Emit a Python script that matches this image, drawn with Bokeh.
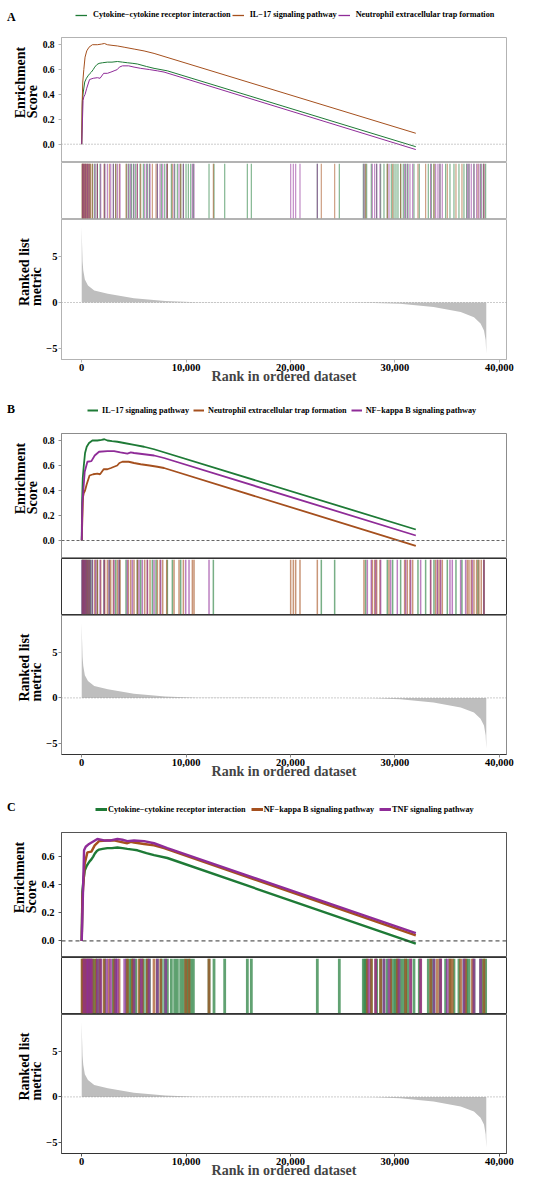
from bokeh.plotting import figure
from bokeh.layouts import column
from bokeh.models import (Range1d, FixedTicker, NumeralTickFormatter, Span,
                          Legend, LegendItem, Title)
from bokeh.embed import file_html
from bokeh.resources import INLINE

# ---------------- data ----------------
RANK = [0, 30, 80, 150, 300, 600, 1200, 2500, 5000, 8000, 11000, 15000, 20000,
        25000, 28000, 30500, 33700, 36300, 37570, 38200, 38530, 38690, 38750]
METRIC = [8.3, 6.5, 4.5, 3.5, 2.5, 1.85, 1.3, 0.95, 0.47, 0.15, 0.03, 0.005, 0.0,
          -0.01, -0.05, -0.15, -0.5, -1.05, -1.6, -2.3, -3.05, -4.1, -5.6]

CYTO_X = [0, 64, 150, 287, 450, 607, 800, 926, 1100, 1245, 1450, 1660, 2000, 2458,
          2900, 3416, 3900, 4373, 4900, 5331, 6200, 6927, 8203, 32000]
CYTO_ES = [0, 0.35, 0.42, 0.50, 0.53, 0.55, 0.57, 0.58, 0.60, 0.62, 0.64, 0.65, 0.655,
           0.66, 0.66, 0.665, 0.66, 0.655, 0.65, 0.645, 0.625, 0.61, 0.59, -0.02]
CYTO_HITS = [64, 223, 383, 606, 798, 1053, 1277, 1500, 1756, 2202, 3032, 3256, 4309,
             4533, 4756, 4948, 5171, 5586, 5905, 6224, 6480, 7246, 7629, 7948, 8203,
             8586, 8905, 9161, 9480, 9736, 9991, 10214, 10438, 10693, 12193, 12672,
             13694, 15864, 16247, 22567, 24674, 26972, 27132, 27292, 27738, 28249,
             28632, 28951, 29270, 29654, 29909, 30101, 30292, 30548, 30803, 31026,
             31250, 31824, 32335, 33197, 33484, 33739, 34314, 34856, 35272, 35655,
             36133, 36612, 36868, 37091, 37570, 38208, 38464, 38687]

IL17_X = [0, 32, 100, 200, 319, 479, 700, 1021, 1500, 1900, 2170, 2460, 2900, 3420,
          4060, 5020, 5970, 6930, 32000]
IL17_ES = [0, 0.30, 0.50, 0.60, 0.70, 0.75, 0.78, 0.80, 0.80, 0.805, 0.81, 0.80, 0.795,
           0.79, 0.78, 0.765, 0.75, 0.73, 0.088]
IL17_HITS = [32, 100, 160, 240, 319, 400, 479, 560, 670, 760, 862, 1021, 1500, 2139,
             2649, 3256, 3607, 4245, 5331, 5650, 6767, 7118, 8203, 8682, 9480, 12608,
             22950, 24227, 27196, 29270, 29781, 30548, 32207, 32941, 33739, 35016,
             35846, 36420, 37952, 38527]

NEUT_X = [0, 128, 200, 319, 479, 750, 1100, 1500, 1756, 2100, 2458, 2800, 3096, 3400,
          3607, 3900, 4500, 5011, 5650, 6500, 7246, 7884, 32000]
NEUT_ES = [0, 0.35, 0.38, 0.40, 0.45, 0.52, 0.53, 0.535, 0.53, 0.57, 0.57, 0.58, 0.59,
           0.60, 0.62, 0.63, 0.63, 0.62, 0.61, 0.60, 0.59, 0.58, -0.043]
NEUT_HITS = [96, 223, 383, 543, 702, 1245, 1500, 1819, 2202, 2458, 2777, 3032, 3416,
             3671, 4469, 4692, 5011, 5331, 6033, 6288, 6544, 7246, 7501, 7757, 8140,
             8842, 9321, 9736, 10598, 10757, 20014, 20269, 20492, 20907, 22567, 27036,
             27834, 28058, 28249, 28568, 29430, 30930, 31186, 31441, 31697, 33420,
             33899, 34122, 34314, 34537, 36931, 37091, 37314, 37570, 37825, 38048,
             38272, 38527]

NFKB_X = [0, 64, 287, 543, 926, 1245, 1660, 2458, 3100, 3700, 4373, 4700, 5011, 5970,
          6930, 7884, 32000]
NFKB_ES = [0, 0.30, 0.55, 0.63, 0.635, 0.68, 0.71, 0.715, 0.715, 0.705, 0.695, 0.705,
           0.70, 0.69, 0.68, 0.66, 0.04]
NFKB_HITS = [32, 160, 287, 415, 606, 798, 1021, 1341, 1756, 2139, 2617, 3096, 3575,
             4373, 4852, 5490, 5809, 6288, 6927, 7565, 9959, 10278, 12193, 27356,
             27738, 28153, 28632, 29590, 30228, 31026, 31505, 32463, 33420, 34058,
             34377, 35272, 35495, 36293, 36772, 37410, 38527]

TNF_X = [0, 223, 383, 702, 1500, 2139, 2777, 3416, 3894, 4373, 5011, 5969, 6927, 8203,
         32000]
TNF_ES = [0, 0.645, 0.67, 0.69, 0.725, 0.715, 0.715, 0.725, 0.72, 0.71, 0.715, 0.71,
          0.695, 0.66, 0.055]
TNF_HITS = [223, 479, 606, 798, 926, 1500, 1819, 2394, 2777, 3256, 3416, 4118, 5011,
            5714, 6448, 7246, 8044, 27515, 28153, 28951, 29430, 30388, 31505, 32463,
            33739, 34377, 35016, 36612, 37570, 38208]

NAMES = {
    "cyto": "Cytokine\u2212cytokine receptor interaction",
    "il17": "IL\u221217 signaling pathway",
    "neut": "Neutrophil extracellular trap formation",
    "nfkb": "NF\u2212kappa B signaling pathway",
    "tnf": "TNF signaling pathway",
}
SETS = {
    "cyto": (CYTO_X, CYTO_ES, CYTO_HITS),
    "il17": (IL17_X, IL17_ES, IL17_HITS),
    "neut": (NEUT_X, NEUT_ES, NEUT_HITS),
    "nfkb": (NFKB_X, NFKB_ES, NFKB_HITS),
    "tnf": (TNF_X, TNF_ES, TNF_HITS),
}
PANELS = [("A", ["cyto", "il17", "neut"]),
          ("B", ["il17", "neut", "nfkb"]),
          ("C", ["cyto", "nfkb", "tnf"])]
ES_TICKS = {"A": [0, 0.2, 0.4, 0.6, 0.8], "B": [0, 0.2, 0.4, 0.6, 0.8],
            "C": [0, 0.2, 0.4, 0.6]}
X_TICKS = [0, 10000, 20000, 30000, 40000]
RANK_TICKS = [-5, 0, 5]

COLORS = ["#1E7A36", "#A5501E", "#8F2C98"]
FONT = "Liberation Serif"
XR = (-1937, 40687)
W = 550
FL, FW = 61, 445
PAD = "\u00a0" * 10   # lifts the rotated y titles above the frame centre

STYLE = {
    "A": dict(lw=1.0, llw=1.3, tw=1.2, ta=0.55, out="#b3b3b3", hit="#b3b3b3",
              zdash="1 2", zcol="#999999", head=36, esr=(-0.147, 0.858), esfs="9.5px",
              lx=75, ly=17, ls=6, sp=1, gw=12, let_y=11.5, rh=140),
    "B": dict(lw=1.8, llw=2.0, tw=1.5, ta=0.6, out="#8c8c8c", hit="#333333",
              zdash="3 2", zcol="#666666", head=46, esr=(-0.144, 0.856), esfs="9.5px",
              lx=87, ly=17.3, ls=4, sp=4, gw=11, let_y=15.5, rh=139),
    "C": dict(lw=2.4, llw=3.0, tw=2.8, ta=0.7, out="#555555", hit="#333333",
              zdash="4 3", zcol="#333333", head=50, esr=(-0.118, 0.7715), esfs="10.5px",
              lx=95, ly=17.5, ls=1, sp=5, gw=12, let_y=16, rh=139),
}


def base(fh, top, bottom, yr, xaxis=None, yaxis=None):
    p = figure(frame_width=FW, frame_height=fh, min_border_left=FL,
               min_border_right=W - FL - FW, min_border_top=top,
               min_border_bottom=bottom, x_range=Range1d(*XR), y_range=Range1d(*yr),
               x_axis_location=xaxis, y_axis_location=yaxis,
               output_backend="svg", toolbar_location=None)
    p.xgrid.visible = False
    p.ygrid.visible = False
    p.background_fill_color = "white"
    p.border_fill_color = "white"
    return p


def style_yaxis(p, ax, color, fs, lines, standoff):
    ax.major_label_text_font = FONT
    ax.major_label_text_font_style = "bold"
    ax.major_label_text_font_size = fs
    ax.major_label_text_color = "black"
    ax.major_label_standoff = standoff
    ax.axis_label_standoff = 0
    ax.major_tick_out = 3
    ax.major_tick_in = 0
    ax.minor_tick_out = 0
    ax.minor_tick_in = 0
    ax.axis_line_color = color
    ax.major_tick_line_color = color
    text = "\n".join(PAD + t for t in lines)
    p.add_layout(Title(text=text, align="center", standoff=0,
                       text_font=FONT, text_font_style="bold", text_font_size="14px",
                       text_line_height=0.8, text_color="black"), "left")


def legend(items, loc, **kw):
    opts = dict(orientation="horizontal", location=loc, padding=0, margin=0,
                border_line_color=None, background_fill_alpha=0,
                label_text_font=FONT, label_text_font_style="bold",
                label_text_baseline="middle", label_text_color="black")
    opts.update(kw)
    return Legend(items=items, **opts)


figs = []
for letter, keys in PANELS:
    s = STYLE[letter]
    # ---- header: panel letter + legend ----
    hd = figure(frame_width=W, frame_height=s["head"], min_border=0,
                x_range=Range1d(-10, -9), y_range=Range1d(-10, -9),
                x_axis_location=None, y_axis_location=None,
                output_backend="svg", toolbar_location=None)
    hd.xgrid.visible = False
    hd.ygrid.visible = False
    hd.outline_line_color = None
    items = []
    for k, c in zip(keys, COLORS):
        xs, es, _ = SETS[k]
        g = hd.line(xs, es, line_color=c, line_width=s["llw"], visible=False)
        items.append(LegendItem(label=NAMES[k], renderers=[g]))
    hd.add_layout(legend(items, (s["lx"], s["ly"]), glyph_width=s["gw"],
                         glyph_height=8, label_height=8, label_standoff=s["ls"],
                         spacing=s["sp"], label_text_font_size="8.2px"))
    # panel letter (a legend entry with an invisible glyph)
    xs, es, _ = SETS[keys[0]]
    ghost = hd.line(xs, es, line_alpha=0, visible=False)
    hd.add_layout(legend([LegendItem(label=letter, renderers=[ghost])],
                         (7, s["let_y"]), glyph_width=0, glyph_height=12,
                         label_height=12, label_standoff=0, spacing=0,
                         label_text_font_size="12px"))
    figs.append(hd)

    # ---- enrichment score ----
    p = base(125, 1, 0, s["esr"], yaxis="left")
    p.outline_line_color = s["out"]
    p.add_layout(Span(location=0, dimension="width", line_color=s["zcol"],
                      line_dash=s["zdash"], line_width=1))
    for k, c in zip(keys, COLORS):
        xs, es, _ = SETS[k]
        p.line(xs, es, line_color=c, line_width=s["lw"])
    ax = p.yaxis[0]
    ax.ticker = FixedTicker(ticks=ES_TICKS[letter])
    ax.formatter = NumeralTickFormatter(format="0.0")
    style_yaxis(p, ax, s["out"], s["esfs"], ["Enrichment", "Score"], 4)
    figs.append(p)

    # ---- hits ----
    h = base(57, 0, 0, (0, 1))
    h.outline_line_color = s["hit"]
    for k, c in zip(keys, COLORS):
        hits = SETS[k][2]
        h.segment(x0=hits, y0=[0.02] * len(hits), x1=hits, y1=[0.98] * len(hits),
                  line_color=c, line_width=s["tw"], line_alpha=s["ta"])
    figs.append(h)

    # ---- ranked list metric ----
    r = base(s["rh"], 0, 27, (-6.23, 9.07), xaxis="below", yaxis="left")
    r.outline_line_color = s["out"]
    r.varea(x=RANK, y1=[0] * len(RANK), y2=METRIC, fill_color="#bebebe")
    r.add_layout(Span(location=0, dimension="width", line_color="#999999",
                      line_dash="1 2", line_width=1))
    ya = r.yaxis[0]
    ya.ticker = FixedTicker(ticks=RANK_TICKS)
    ya.major_label_overrides = {-5: "\u22125", 0: "0", 5: "5"}
    style_yaxis(r, ya, s["out"], "10.5px", ["Ranked list", "metric"], 1)
    xa = r.xaxis[0]
    xa.ticker = FixedTicker(ticks=X_TICKS)
    xa.formatter = NumeralTickFormatter(format="0,0")
    xa.axis_label = "Rank in ordered dataset"
    xa.axis_label_text_font = FONT
    xa.axis_label_text_font_style = "bold"
    xa.axis_label_text_font_size = "14px"
    xa.axis_label_standoff = -5
    xa.major_label_text_font = FONT
    xa.major_label_text_font_style = "bold"
    xa.major_label_text_font_size = "10.5px"
    xa.major_label_text_color = "black"
    xa.major_label_standoff = 1
    xa.major_tick_out = 3
    xa.major_tick_in = 0
    xa.minor_tick_out = 0
    xa.minor_tick_in = 0
    xa.axis_line_color = s["hit"] if letter != "A" else s["out"]
    xa.major_tick_line_color = s["out"]
    figs.append(r)

layout = column(*figs, spacing=0)
open("out.html", "w").write(file_html(layout, INLINE, title="GSEA"))
